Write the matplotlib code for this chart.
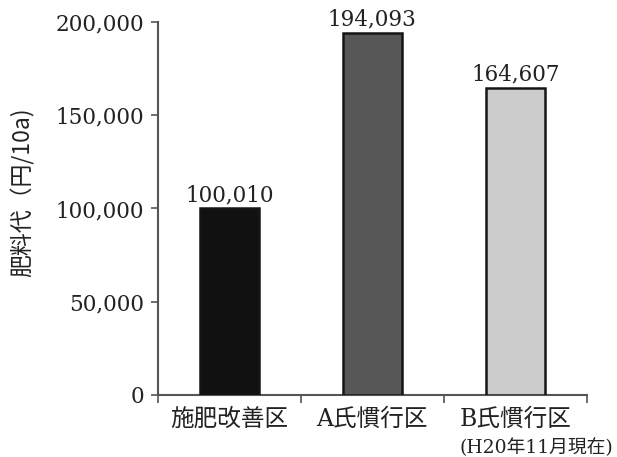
import matplotlib
matplotlib.use("Agg")
import matplotlib.pyplot as plt
from matplotlib.ticker import FuncFormatter, FixedLocator

plt.rcParams['font.family'] = ['DejaVu Serif', 'Noto Sans CJK JP']

categories = ["施肥改善区", "A氏慣行区", "B氏慣行区"]
costs = [100010, 194093, 164607]
bar_colors = ["#111111", "#575757", "#cbcbcb"]
y_ticks = [0, 50000, 100000, 150000, 200000]
note = "(H20年11月現在)"
y_label = "肥料代（円/10a)"

fig = plt.figure(figsize=(6.17, 4.57), dpi=100)
ax = fig.add_axes([0.256, 0.1357, 0.695, 0.8162])

x = list(range(len(categories)))
ax.bar(x, costs, width=0.41, color=bar_colors, edgecolor="#151515", linewidth=1.8, zorder=3)

for xi, v in zip(x, costs):
    ax.annotate(f"{v:,}", (xi, v), xytext=(0, 1.5), textcoords="offset points",
                ha="center", va="bottom", fontsize=15.5, color="#222222",
                family=['DejaVu Serif'])

ax.set_xlim(-0.5, len(categories) - 0.5)
ax.set_ylim(0, 200000)
ax.set_yticks(y_ticks)
ax.yaxis.set_major_formatter(FuncFormatter(lambda v, p: f"{int(v):,}"))
ax.tick_params(axis="y", labelsize=15.5, length=5, width=1.2, color="#555555",
               pad=5, labelcolor="#222222")

ax.set_xticks(x)
ax.set_xticklabels(categories, family=['DejaVu Serif', 'Noto Sans CJK JP'])
ax.tick_params(axis="x", which="major", length=0, pad=9, labelsize=17, labelcolor="#222222")
ax.xaxis.set_minor_locator(FixedLocator([i - 0.5 for i in range(len(categories) + 1)]))
ax.tick_params(axis="x", which="minor", length=6, width=1.2, color="#555555")

for side in ("top", "right"):
    ax.spines[side].set_visible(False)
for side in ("left", "bottom"):
    ax.spines[side].set_color("#555555")
    ax.spines[side].set_linewidth(1.5)

ax.set_ylabel(y_label, fontsize=16.5, color="#222222",
              family=['Noto Sans CJK JP', 'DejaVu Serif'])
ax.yaxis.label.set_va("center")
ax.yaxis.set_label_coords(-0.315, 0.545)

ax.text(2.15, -0.142, note, transform=ax.get_xaxis_transform(), ha="center", va="center",
        fontsize=13.5, color="#222222", family=['DejaVu Serif', 'Noto Sans CJK JP'])

fig.savefig("out.png", dpi=100)
